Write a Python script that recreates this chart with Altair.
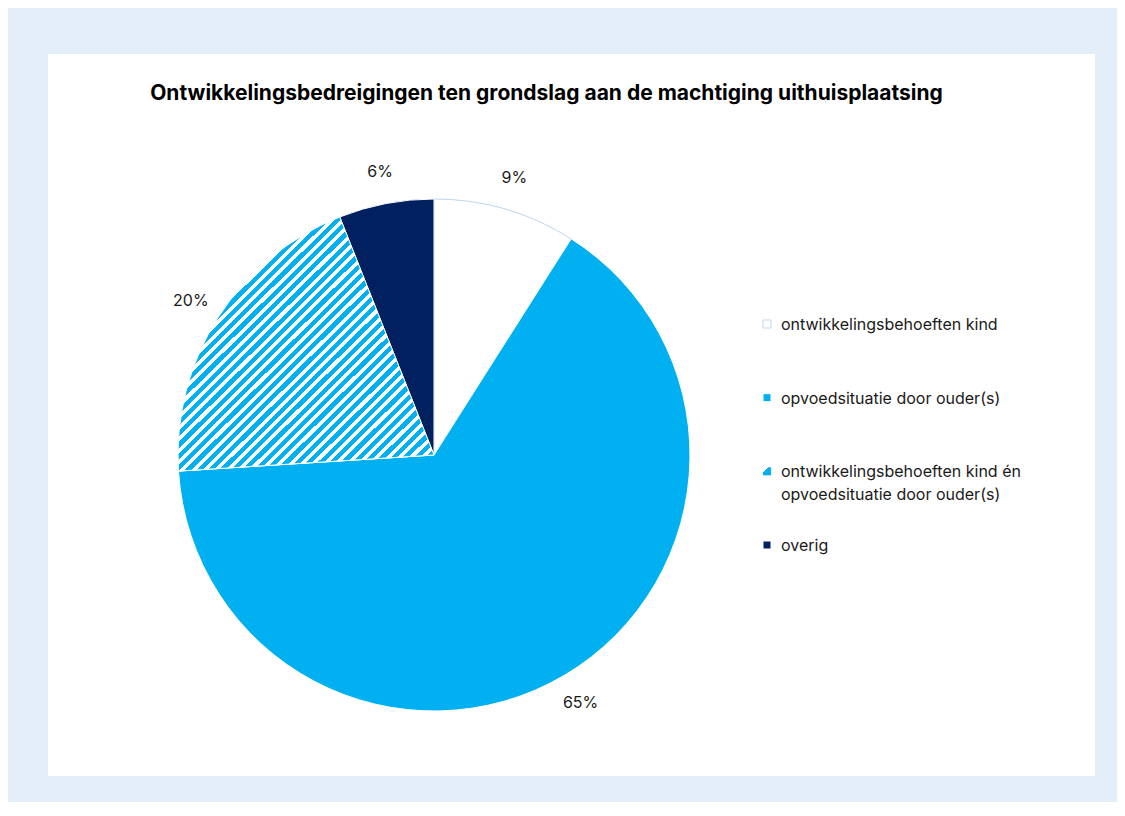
import altair as alt
import pandas as pd

categories = [
    "ontwikkelingsbehoeften kind",
    "opvoedsituatie door ouder(s)",
    "ontwikkelingsbehoeften kind én opvoedsituatie door ouder(s)",
    "overig",
]
legend_text = [
    "ontwikkelingsbehoeften kind",
    "opvoedsituatie door ouder(s)",
    "ontwikkelingsbehoeften kind én\nopvoedsituatie door ouder(s)",
    "overig",
]
values = [9, 65, 20, 6]
pct_labels = ["9%", "65%", "20%", "6%"]
slice_order = [0, 1, 2, 3]

fill_colors = ["#FFFFFF", "#00B0F0", "#5CCBF4", "#002060"]
stroke_colors = ["#BDD7EE", "#FFFFFF", "#FFFFFF", "#FFFFFF"]

df = pd.DataFrame({
    "category": categories,
    "legend_text": legend_text,
    "value": values,
    "label": pct_labels,
    "order": slice_order,
})

FONT = "Inter"
BLUE = "#00B0F0"
TXT = "#1A1A1A"
CX, CY, R = 386, 401, 256


def stripes(n, blue_frac=0.55):
    st = []
    for i in range(n):
        s = i / n
        m = (i + blue_frac) / n
        e = (i + 1) / n
        st += [
            alt.GradientStop(offset=s, color=BLUE),
            alt.GradientStop(offset=m, color=BLUE),
            alt.GradientStop(offset=m, color="#FFFFFF"),
            alt.GradientStop(offset=e, color="#FFFFFF"),
        ]
    return st


hatch = alt.LinearGradient(gradient="linear", stops=stripes(45), x1=0, y1=0, x2=1, y2=1)
hatch_small = alt.LinearGradient(
    gradient="linear",
    stops=[
        alt.GradientStop(offset=0, color="#FFFFFF"),
        alt.GradientStop(offset=0.3, color="#FFFFFF"),
        alt.GradientStop(offset=0.3, color=BLUE),
        alt.GradientStop(offset=1, color=BLUE),
    ],
    x1=0, y1=0, x2=1, y2=1,
)

fill_scale = alt.Scale(domain=categories, range=fill_colors)
stroke_scale = alt.Scale(domain=categories, range=stroke_colors)

base = alt.Chart(df).encode(
    theta=alt.Theta("value:Q", stack=True),
    order=alt.Order("order:Q"),
)

pie = base.mark_arc(radius=R, strokeWidth=1).encode(
    x=alt.value(CX),
    y=alt.value(CY),
    fill=alt.Fill("category:N", scale=fill_scale, legend=None),
    stroke=alt.Stroke("category:N", scale=stroke_scale, legend=None),
)

hatched = base.mark_arc(radius=R, fill=hatch, stroke="#FFFFFF", strokeWidth=1).encode(
    x=alt.value(CX),
    y=alt.value(CY),
    opacity=alt.condition(alt.datum.category == categories[2], alt.value(1), alt.value(0)),
)

text = base.mark_text(radius=288, font=FONT, fontSize=16, color=TXT).encode(
    x=alt.value(CX),
    y=alt.value(CY),
    text="label:N",
)

# legend drawn from the same data
leg_y = alt.Y("order:Q", scale=alt.Scale(domain=[0, 3], range=[270, 491]), axis=None)
leg_base = alt.Chart(df).encode(y=leg_y)

leg_sym = leg_base.mark_square(size=64, strokeWidth=1, opacity=1).encode(
    x=alt.value(719),
    fill=alt.Fill("category:N", scale=fill_scale, legend=None),
    stroke=alt.Stroke(
        "category:N",
        scale=alt.Scale(domain=categories, range=["#9DC3E6", "#00B0F0", "#FFFFFF", "#002060"]),
        legend=None,
    ),
)
leg_sym_hatch = leg_base.mark_square(size=64, fill=hatch_small, strokeWidth=0).encode(
    x=alt.value(719),
    opacity=alt.condition(alt.datum.category == categories[2], alt.value(1), alt.value(0)),
)
leg_txt = leg_base.mark_text(
    align="left", baseline="alphabetic", dy=6, font=FONT, fontSize=16,
    color=TXT, lineBreak="\n", lineHeight=23,
).encode(
    x=alt.value(733),
    text="legend_text:N",
)

chart = (
    alt.layer(pie, hatched, text, leg_sym, leg_sym_hatch, leg_txt)
    .properties(
        width=1047,
        height=722,
        background="#E4EEF8",
        padding={"left": 40, "top": 46, "right": 22, "bottom": 26},
        title=alt.TitleParams(
            "Ontwikkelingsbedreigingen ten grondslag aan de machtiging uithuisplaatsing",
            font=FONT,
            fontSize=21,
            fontWeight="bold",
            color="#000000",
            anchor="middle",
            frame="group",
            dx=-25,
            offset=-50,
        ),
    )
    .configure_view(fill="#FFFFFF", stroke=None)
)

chart.save("out.html", embed_options={"renderer": "svg", "actions": False})
